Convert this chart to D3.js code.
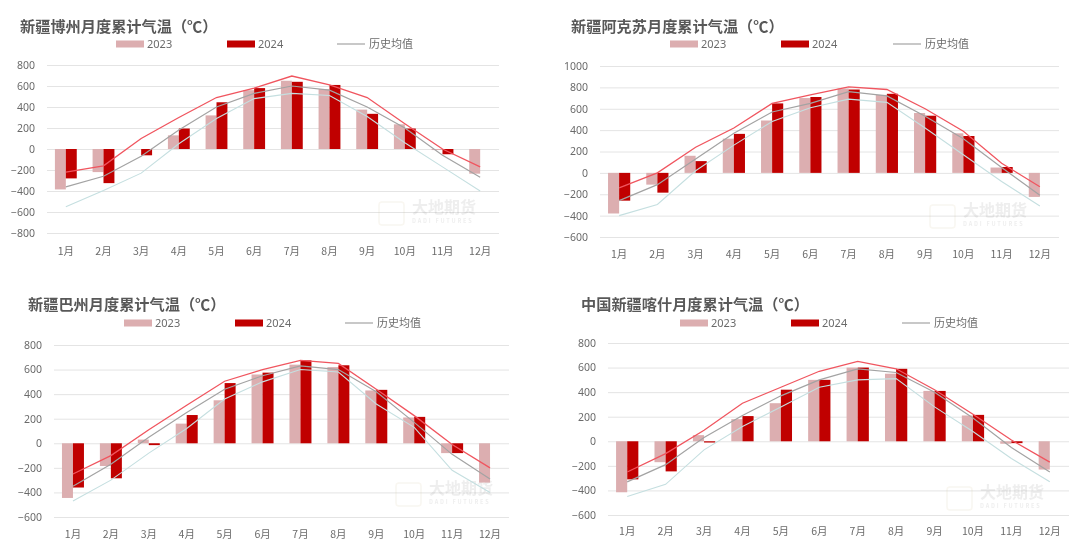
<!DOCTYPE html>
<html><head><meta charset="utf-8">
<script src="https://cdnjs.cloudflare.com/ajax/libs/d3/7.8.5/d3.min.js"></script>
<style>html,body{margin:0;padding:0;background:#fff;width:1080px;height:558px;overflow:hidden}svg{display:block}
text{font-family:"Noto Sans CJK SC","Noto Sans",sans-serif}</style></head><body>
<svg id="c" width="1080" height="558"></svg>
<script>
const months=["1月","2月","3月","4月","5月","6月","7月","8月","9月","10月","11月","12月"];
const titles=["新疆博州月度累计气温（℃）","新疆阿克苏月度累计气温（℃）","新疆巴州月度累计气温（℃）","中国新疆喀什月度累计气温（℃）"];
const ticks=[[800,600,400,200,0,-200,-400,-600,-800],[1000,800,600,400,200,0,-200,-400,-600],[800,600,400,200,0,-200,-400,-600],[800,600,400,200,0,-200,-400,-600]];
const bars2023=[
 [-385,-220,0,130,320,560,650,570,375,235,-10,-235],
 [-380,-110,160,320,490,700,790,730,560,370,50,-225],
 [-445,-185,30,160,350,560,640,620,430,210,-80,-320],
 [-415,-170,50,180,310,500,600,550,410,210,-20,-230]];
const bars2024=[
 [-280,-325,-60,195,445,580,640,610,335,195,-50,0],
 [-260,-185,110,365,650,710,780,740,535,345,55,0],
 [-360,-285,-15,230,490,575,675,635,435,215,-80,0],
 [-310,-245,-10,205,420,500,600,590,410,215,-15,0]];
const histAvg=[
 [-360,-260,-70,180,400,530,600,560,400,200,-60,-270],
 [-260,-110,130,370,570,650,760,720,530,320,50,-210],
 [-350,-170,50,250,440,550,630,600,420,170,-90,-290],
 [-330,-190,30,210,370,500,590,560,400,190,-50,-250]];
const histMax=[
 [-220,-160,100,300,490,580,695,610,490,240,0,-170],
 [-140,0,240,420,650,730,805,780,600,390,90,-130],
 [-250,-100,110,310,505,600,675,650,440,225,-10,-200],
 [-250,-100,90,310,440,570,650,590,420,220,10,-170]];
const histMin=[
 [-550,-395,-230,50,290,480,530,510,310,60,-170,-400],
 [-400,-295,20,260,480,610,690,660,420,170,-80,-310],
 [-470,-300,-80,120,360,500,600,580,320,130,-220,-400],
 [-450,-350,-70,120,280,440,500,510,280,80,-140,-330]];
// layout: plot box, title x/y, legend x offsets and y, watermark, axis label padding
const layout=[
 {x0:47,x1:499,y0:65,y1:233,tx:20,ty:32,lx:[116,227,337],ly:44,wx:379,wy:202,pad:15},
 {x0:600,x1:1059,y0:66,y1:237,tx:571,ty:32,lx:[670,781,893],ly:44,wx:930,wy:205,pad:14},
 {x0:54,x1:509,y0:345,y1:517,tx:28,ty:310,lx:[124,235,345],ly:323,wx:396,wy:483,pad:14},
 {x0:608,x1:1069,y0:343,y1:515,tx:581,ty:310,lx:[680,791,902],ly:323,wx:947,wy:487,pad:13}];
const svg=d3.select("#c");
const defs=svg.append("defs");
defs.append("filter").attr("id","soft").append("feGaussianBlur").attr("stdDeviation",0.5);
const root=svg.append("g").attr("filter","url(#soft)");
const C23="#dcaeb0",C24="#c00000",TXT="#6b6b6b";
titles.forEach((title,i)=>{
  const L=layout[i],g=root.append("g");
  const x=d3.scaleBand().domain(months).range([L.x0,L.x1]);
  const y=d3.scaleLinear().domain(d3.extent(ticks[i])).range([L.y1,L.y0]);
  const gy=g.append("g").attr("transform",`translate(${L.x0},0)`)
    .call(d3.axisLeft(y).tickValues(ticks[i]).tickSize(-(L.x1-L.x0)).tickPadding(12).tickFormat(d3.format("d")));
  gy.select(".domain").remove();
  gy.selectAll("line").attr("stroke","#e4e4e4").attr("stroke-width",1);
  gy.selectAll("text").attr("fill",TXT).attr("font-size",10.5).style("font-family","'Noto Sans',sans-serif");
  const gx=g.append("g").attr("transform",`translate(0,${L.y1})`)
    .call(d3.axisBottom(x).tickSize(0).tickPadding(L.pad));
  gx.select(".domain").remove();
  gx.selectAll("text").attr("fill",TXT).attr("font-size",10.5);
  // watermark
  const w=g.append("g").attr("opacity",0.12);
  w.append("rect").attr("x",L.wx).attr("y",L.wy).attr("width",25).attr("height",23).attr("rx",3)
    .attr("fill","none").attr("stroke","#c9b98a").attr("stroke-width",1.5);
  w.append("text").attr("x",L.wx+33).attr("y",L.wy+11).attr("font-size",16).attr("font-weight",700).attr("fill","#777").text("大地期货");
  w.append("text").attr("x",L.wx+33).attr("y",L.wy+21).attr("font-size",5.5).attr("letter-spacing",1.8).attr("font-weight",700).attr("fill","#777").text("DADI FUTURES");
  const bw=x.bandwidth()*0.29, cx=m=>x(m)+x.bandwidth()/2;
  const drawBars=(vals,col,off)=>g.append("g").selectAll("rect").data(vals).join("rect")
    .attr("x",(d,k)=>cx(months[k])+off).attr("width",bw)
    .attr("y",d=>Math.min(y(d),y(0))).attr("height",d=>Math.abs(y(d)-y(0))).attr("fill",col);
  drawBars(bars2023[i],C23,-bw);
  drawBars(bars2024[i],C24,0);
  const line=d3.line().x((d,k)=>cx(months[k])).y(d=>y(d));
  const drawLine=(vals,col,w)=>g.append("path").datum(vals).attr("d",line).attr("fill","none").attr("stroke",col).attr("stroke-width",w);
  drawLine(histMin[i],"#c5dfe0",1.1);
  drawLine(histAvg[i],"#a3a3a3",1.2);
  drawLine(histMax[i],"#f0555f",1.3);
  // title
  g.append("text").attr("x",L.tx).attr("y",L.ty).attr("font-size",15.2).attr("font-weight",700).attr("fill","#595959").text(title);
  // legend
  const lg=g.append("g");
  const names=["2023","2024","历史均值"];
  lg.append("rect").attr("x",L.lx[0]).attr("y",L.ly-3.5).attr("width",28).attr("height",7).attr("fill",C23);
  lg.append("rect").attr("x",L.lx[1]).attr("y",L.ly-3.5).attr("width",28).attr("height",7).attr("fill",C24);
  lg.append("line").attr("x1",L.lx[2]).attr("x2",L.lx[2]+28).attr("y1",L.ly).attr("y2",L.ly).attr("stroke","#a3a3a3").attr("stroke-width",1.2);
  names.forEach((n,k)=>lg.append("text").attr("x",L.lx[k]+(k==2?32:31)).attr("y",L.ly+4).attr("font-size",11).attr("fill",TXT)
    .style("font-family",k==2?null:"'Noto Sans',sans-serif").text(n));
});
</script></body></html>
